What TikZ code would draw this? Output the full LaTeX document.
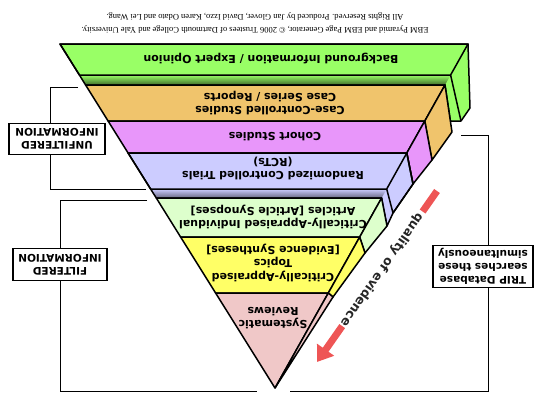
\documentclass[tikz,border=0pt]{standalone}
\usepackage{fontspec}
\setmainfont{DejaVu Sans}
\newfontfamily\notefont{Liberation Serif}
\usetikzlibrary{calc,arrows.meta}

\definecolor{bgreen}{RGB}{153,255,102}
\definecolor{borange}{RGB}{240,196,108}
\definecolor{bpurple}{RGB}{232,150,250}
\definecolor{bblue}{RGB}{204,204,255}
\definecolor{blgreen}{RGB}{221,255,204}
\definecolor{byellow}{RGB}{255,255,102}
\definecolor{bpink}{RGB}{240,200,200}
\definecolor{barrow}{RGB}{238,85,85}

\tikzset{
  layer/.style={draw=black, line width=1.5pt, line join=round},
  tier/.style={rotate=180, align=center, inner sep=0pt,
    font=\bfseries\fontsize{11}{13.5}\selectfont},
  infobox/.style={draw, line width=1.5pt, rotate=180, align=center, inner sep=1pt,
    font=\bfseries\fontsize{10.5}{13}\selectfont},
  bracket/.style={line width=0.8pt}
}

\begin{document}
\begin{tikzpicture}[x=1pt,y=-1pt]
\useasboundingbox (0,0) rectangle (546,410);

% background information / expert opinion, with its underside
\fill[bgreen] (60,44) -- (468,44) -- (470,108) -- (461,121) -- (450.4,121) -- (445,85) -- (85.6,85) -- (79.4,75) -- cycle;
\begin{scope}
  \clip (79.4,75) -- (450.6,75) -- (445,85) -- (85.6,85) -- cycle;
  \shade[top color=bgreen, bottom color=bgreen!35!black] (79,75) rectangle (451,86);
\end{scope}
\draw[layer] (60,44) -- (468,44) -- (470,108) -- (461,121) -- (450.4,121) -- (445,85) -- (85.6,85) -- (79.4,75) -- cycle;
\draw[layer] (60,44) -- (468,44) -- (450.6,75) -- (79.4,75) -- cycle;
\draw[layer] (450.6,75) -- (461,121);

% case-controlled studies
\filldraw[layer, fill=borange] (85.6,85) -- (445,85) -- (424.8,121) -- (108.1,121) -- cycle;
\filldraw[layer, fill=borange] (445,85) -- (452,132) -- (432,160) -- (424.8,121) -- cycle;

% cohort studies
\filldraw[layer, fill=bpurple] (108.1,121) -- (424.8,121) -- (406.8,153) -- (128.1,153) -- cycle;
\filldraw[layer, fill=bpurple] (424.8,121) -- (432,160) -- (413,184) -- (406.8,153) -- cycle;

% RCTs, with its underside
\fill[bblue] (128.1,153) -- (406.8,153) -- (413,184) -- (393,213) -- (387,226) -- (381.6,198) -- (156.3,198) -- (150.6,189) -- cycle;
\begin{scope}
  \clip (150.6,189) -- (386.7,189) -- (381.6,198) -- (156.3,198) -- cycle;
  \shade[top color=bblue, bottom color=bblue!45!black] (150,189) rectangle (387,199);
\end{scope}
\draw[layer] (128.1,153) -- (406.8,153) -- (413,184) -- (393,213) -- (387,226) -- (381.6,198) -- (156.3,198) -- (150.6,189) -- cycle;
\draw[layer] (128.1,153) -- (406.8,153) -- (386.7,189) -- (150.6,189) -- cycle;
\draw[layer] (406.8,153) -- (413,184) -- (393,213) -- (386.7,189);

% critically-appraised individual articles
\filldraw[layer, fill=blgreen] (156.3,198) -- (381.6,198) -- (359.7,237) -- (180.6,237) -- cycle;
\filldraw[layer, fill=blgreen] (381.6,198) -- (387,226) -- (365,253) -- (359.7,237) -- cycle;

% critically-appraised topics
\filldraw[layer, fill=byellow] (180.6,237) -- (359.7,237) -- (328.3,293) -- (215.6,293) -- cycle;
\filldraw[layer, fill=byellow] (359.7,237) -- (365,253) -- (333,297) -- (328.3,293) -- cycle;

% systematic reviews
\filldraw[layer, fill=bpink] (215.6,293) -- (328.3,293) -- (275,388) -- cycle;
\filldraw[layer, fill=bpink] (328.3,293) -- (333,297) -- (275,388) -- cycle;

% layer texts
\node[tier] (bgInfo) at (271,58) {Background Information / Expert Opinion};
\node[tier] (caseCtrl) at (270,103) {Case-Controlled Studies\\Case Series / Reports};
\node[tier] (cohort) at (275,137) {Cohort Studies};
\node[tier] (rct) at (273,168.5) {Randomized Controlled Trials\\(RCTs)};
\node[tier] (articles) at (273,217) {Critically-Appraised Individual\\Articles [Article Synopses]};
\node[tier] (topics) at (273,262.5) {Critically-Appraised\\Topics\\{[Evidence Syntheses]}};
\node[tier] (sysRev) at (273,318) {Systematic\\Reviews};

% copyright note
\node[rotate=180, align=center, inner sep=0pt, font=\notefont\fontsize{8.5}{13}\selectfont] (note) at (255,23.5)
  {EBM Pyramid and EBM Page Generator, \textcopyright{} 2006 Trustees of Dartmouth College and Yale University.\\
   All Rights Reserved. Produced by Jan Glover, David Izzo, Karen Odato and Lei Wang.};

% side labels
\node[infobox, minimum width=96pt, minimum height=31pt] (unfiltered) at (57,139) {UNFILTERED\\INFORMATION};
\node[infobox, minimum width=94pt, minimum height=32pt] (filtered) at (60,264.5) {FILTERED\\INFORMATION};
\node[infobox, minimum width=100pt, minimum height=42pt] (trip) at (483,266.5) {TRIP Database\\searches these\\simultaneously};

\coordinate (ufTop) at (78,87);
\coordinate (ufEnd) at (146,189);
\coordinate (fTop) at (147,200);
\coordinate (fEnd) at (257,391);
\coordinate (tTop) at (461,135);
\coordinate (tEnd) at (290,391);

\draw[bracket] (ufTop) -| ([xshift=-7pt]unfiltered.south);
\draw[bracket] ([xshift=-7pt]unfiltered.north) |- (ufEnd);
\draw[bracket] (fTop) -| (filtered.south);
\draw[bracket] (filtered.north) |- (fEnd);
\draw[bracket] (tTop) -| ([xshift=5pt]trip.south);
\draw[bracket] ([xshift=5pt]trip.north) |- (tEnd);

% quality of evidence arrow
\coordinate (qHigh) at (437,191);
\coordinate (qLow) at (317,362);
\draw[barrow, line width=7pt] (qHigh) -- ($(qHigh)!0.12!(qLow)$);
\draw[barrow, line width=7pt, -{Triangle[width=20pt,length=15pt]}] ($(qHigh)!0.79!(qLow)$) -- (qLow);
\node[rotate=235, inner sep=0pt, text=black!85, font=\bfseries\fontsize{12.5}{14}\selectfont] (quality)
  at ($(qHigh)!0.46!(qLow)$) {quality of evidence};
\end{tikzpicture}
\end{document}
